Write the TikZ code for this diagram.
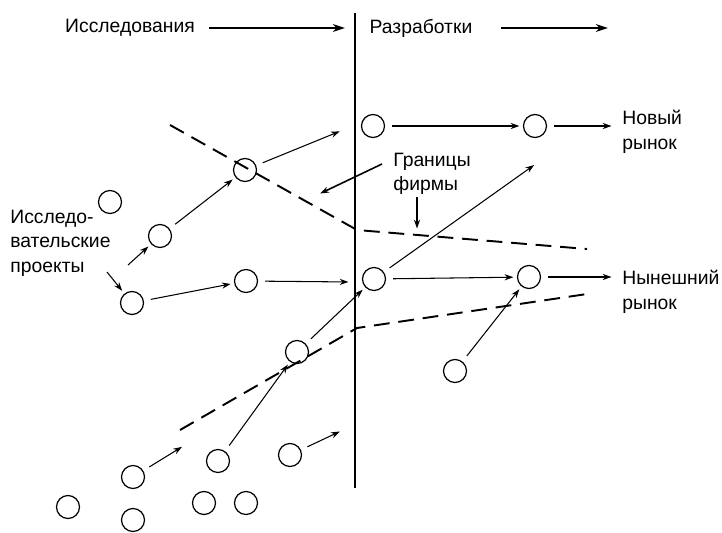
\documentclass[tikz,border=0pt]{standalone}
\usepackage{fontspec}
\setmainfont{Liberation Sans}
\usetikzlibrary{arrows.meta}
\begin{document}
\begin{tikzpicture}[arrow/.style = {line width=0.6pt,-{Stealth[length=5pt,width=3.5pt]},shorten <=4pt,shorten >=2pt},
                    bigarrow/.style = {line width=1pt,-{Stealth[length=7pt,width=4.5pt]}},
                    bound/.style = {line width=1.1pt,dash pattern=on 9pt off 5pt},
                    proj/.style = {draw,circle,line width=0.7pt,minimum size=0.46cm,inner sep=0pt},
                    txt/.style = {align=left,inner sep=0pt},
                    font=\fontsize{11}{14}\selectfont]
                \useasboundingbox (0,0) rectangle (14.44,10.64);

                % headings
                \node[txt] (res) at (2.60,10.08) {Исследования};
                \node[txt] (dev) at (8.42,10.08) {Разработки};
                \coordinate (resend) at (6.90,10.08);
                \coordinate (devend) at (12.16,10.08);
                \draw[bigarrow] ([xshift=8pt]res.east) -- (resend);
                \draw[bigarrow] ([xshift=16pt]dev.east) -- (devend);

                % divide
                \coordinate (top) at (7.10,10.38);
                \coordinate (bottom) at (7.10,0.88);
                \draw[line width=0.8pt] (top) -- (bottom);

                % boundaries of the firm
                \coordinate (u1) at (3.40,8.14);
                \coordinate (u2) at (7.14,6.04);
                \coordinate (u3) at (11.74,5.66);
                \coordinate (l1) at (3.60,2.04);
                \coordinate (l2) at (7.14,4.08);
                \coordinate (l3) at (11.74,4.76);
                \draw[bound] (u1) -- (u2) -- (u3);
                \draw[bound] (l1) -- (l2) -- (l3);

                % projects
                \node[proj] (p1)  at (7.46,8.12) {};
                \node[proj] (p2)  at (10.70,8.12) {};
                \node[proj] (p3)  at (4.90,7.24) {};
                \node[proj] (p4)  at (2.20,6.60) {};
                \node[proj] (p5)  at (3.20,5.92) {};
                \node[proj] (p6)  at (2.64,4.58) {};
                \node[proj] (p7)  at (4.92,5.02) {};
                \node[proj] (p8)  at (7.48,5.06) {};
                \node[proj] (p9)  at (10.58,5.10) {};
                \node[proj] (p10) at (9.10,3.22) {};
                \node[proj] (p11) at (5.94,3.60) {};
                \node[proj] (p12) at (5.80,1.54) {};
                \node[proj] (p13) at (4.36,1.42) {};
                \node[proj] (p14) at (2.66,1.10) {};
                \node[proj] (p15) at (1.36,0.50) {};
                \node[proj] (p16) at (2.66,0.24) {};
                \node[proj] (p17) at (4.08,0.58) {};
                \node[proj] (p18) at (4.92,0.58) {};

                % labels
                \node[txt,anchor=west] (projects) at (0.20,5.78) {Исследо-\\вательские\\проекты};
                \node[txt,anchor=west] (firm) at (7.86,7.16) {Границы\\фирмы};
                \node[txt,anchor=west] (newm) at (12.44,8.00) {Новый\\рынок};
                \node[txt,anchor=west] (curm) at (12.44,4.80) {Нынешний\\рынок};

                % free ends
                \coordinate (e3) at (6.86,8.04);
                \coordinate (e7) at (7.04,5.00);
                \coordinate (e8) at (10.74,7.38);
                \coordinate (e12) at (6.86,2.04);
                \coordinate (e14) at (3.70,1.74);
                \coordinate (f1) at (7.64,7.36);
                \coordinate (f2) at (6.34,6.74);
                \coordinate (f3) at (8.34,6.70);
                \coordinate (f4) at (8.34,6.00);
                \coordinate (q1) at (2.56,5.34);
                \coordinate (q2) at (2.14,5.20);

                \draw[arrow] (p1) -- (p2);
                \draw[arrow] (p2) -- ([xshift=-4pt]p2 -| newm.west);
                \draw[arrow] (p3) -- (e3);
                \draw[arrow] (p5) -- (p3);
                \draw[arrow] (p6) -- (p7);
                \draw[arrow] (p7) -- (e7);
                \draw[arrow] (p8) -- (p9);
                \draw[arrow] (p9) -- ([xshift=-4pt]p9 -| curm.west);
                \draw[arrow] (p8) -- (e8);
                \draw[arrow] (p10) -- (p9);
                \draw[arrow] (p11) -- (p8);
                \draw[arrow] (p13) -- (p11);
                \draw[arrow] (p14) -- (e14);
                \draw[arrow] (p12) -- (e12);
                \draw[arrow,shorten <=0pt] (q1) -- (p5);
                \draw[arrow,shorten <=0pt] (q2) -- (p6);
                \draw[arrow,line width=0.9pt,shorten <=0pt] (f1) -- (f2);
                \draw[arrow,line width=0.9pt,shorten <=0pt] (f3) -- (f4);
            \end{tikzpicture}
\end{document}
